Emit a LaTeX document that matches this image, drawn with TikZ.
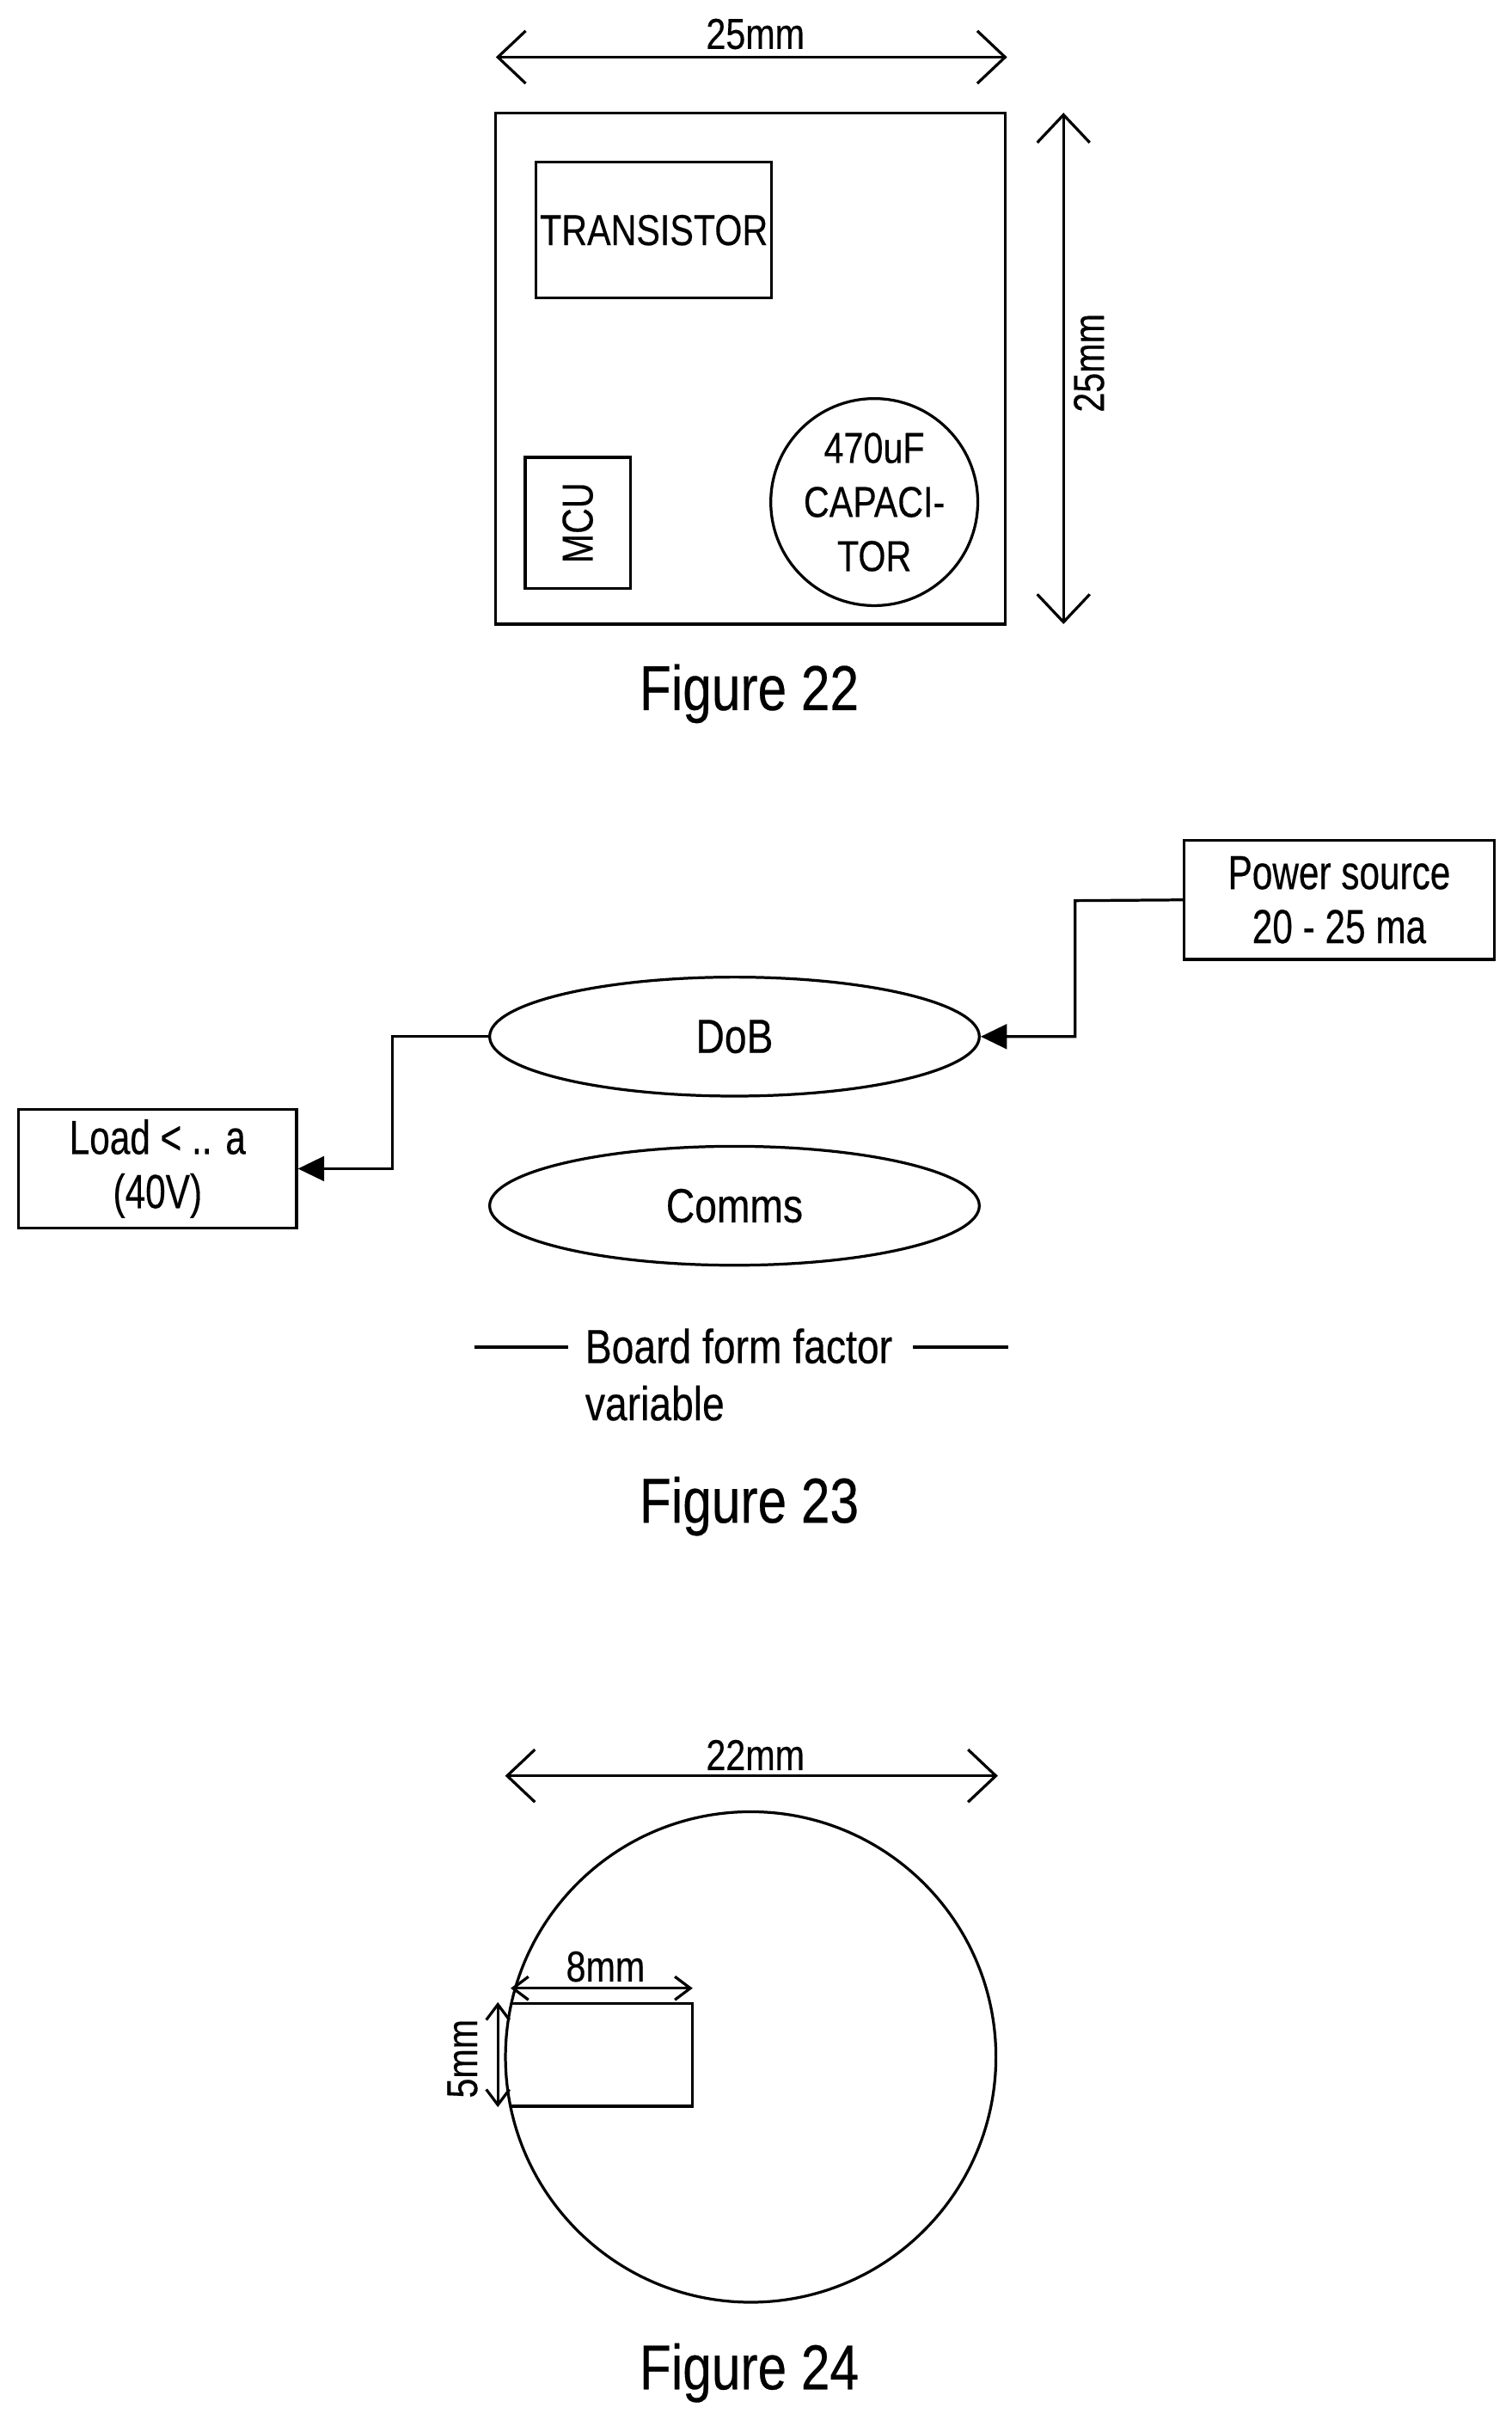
\documentclass[tikz,border=0pt]{standalone}
\usepackage{fontspec}
\usepackage{graphicx}
\setmainfont[FakeBold=0.4]{Liberation Sans}
\usetikzlibrary{arrows.meta,shapes.geometric}
\newcommand{\nar}[1]{\scalebox{.82}[1]{#1}}
\newcommand{\mida}[1]{\scalebox{.83}[1]{#1}}
\newcommand{\midb}[1]{\scalebox{.76}[1]{#1}}
\newcommand{\wid}[1]{\scalebox{.82}[1]{#1}}
\tikzset{
  every path/.style={line width=1.8pt},
  lbl/.style={inner sep=0pt,font=\fontsize{28}{35}\selectfont,align=center},
  lblb/.style={inner sep=0pt,font=\fontsize{31}{35}\selectfont,align=center},
  figcap/.style={inner sep=0pt,font=\fontsize{41}{48}\selectfont},
  box/.style={draw,lbl,rectangle},
  oval/.style={draw,lblb,ellipse,inner sep=0pt,minimum width=317pt,minimum height=77pt},
  dimline/.style={{Straight Barb[length=18pt,width=34pt,line width=1.8pt]}-{Straight Barb[length=18pt,width=34pt,line width=1.8pt]}},
  dimsmall/.style={{Straight Barb[length=10pt,width=15pt,line width=1.8pt]}-{Straight Barb[length=10pt,width=15pt,line width=1.8pt]}},
  solidhead/.style={-{Triangle[length=17pt,width=16pt]}}
}
\begin{document}
\begin{tikzpicture}[x=1pt,y=-1pt]
\useasboundingbox (0,0) rectangle (978.3,1566.5);
% Figure 22
\node[draw,rectangle,inner sep=0pt,minimum width=330pt,minimum height=331pt] (board) at (486,238.5) {};
\node[box,minimum width=152.5pt,minimum height=88pt] (transistor) at (423.3,149) {\nar{TRANSISTOR}};
\node[box,rotate=90,minimum width=85pt,minimum height=68pt] (mcu) at (374,338.5) {\nar{MCU}};
\node[box,circle,minimum size=134pt] (capacitor) at (566,325) {\nar{470uF}\\\nar{CAPACI-}\\\nar{TOR}};
\coordinate (t1) at (321,37); \coordinate (t2) at (652,37);
\draw[dimline] (t1) -- (t2);
\node[lbl] (tlabel) at (489,22) {\nar{25mm}};
\coordinate (r1) at (688.5,73); \coordinate (r2) at (688.5,404);
\draw[dimline] (r1) -- (r2);
\node[lbl,rotate=90] (rlabel) at (705,235) {\nar{25mm}};
\node[figcap] (fig22) at (485,449) {\wid{Figure 22}};
% Figure 23
\node[draw,lblb,rectangle,minimum width=200.5pt,minimum height=77pt] (power) at (867,582.5) {\midb{Power source}\\\midb{20 - 25 ma}};
\node[oval] (dob) at (475.5,671) {\mida{DoB}};
\node[oval] (comms) at (475.5,780.5) {\mida{Comms}};
\node[draw,lblb,rectangle,minimum width=180pt,minimum height=77pt] (load) at (102,756.5) {\midb{Load < .. a}\\\midb{(40V)}};
\coordinate (j1) at (696,583);
\coordinate (j2) at (254,671);
\draw[solidhead] (power.west) -- (j1) |- (dob.east);
\draw[solidhead] (dob.west) -- (j2) |- (load.east);
\node[lblb,anchor=north west,align=left,font=\fontsize{31}{37}\selectfont] (boardform) at (378,859) {\mida{Board form factor}\\\mida{variable}};
\coordinate (l1) at (307,872); \coordinate (l2) at (368,872);
\coordinate (l3) at (591,872); \coordinate (l4) at (653,872);
\draw (l1) -- (l2);
\draw (l3) -- (l4);
\node[figcap] (fig23) at (485,975) {\wid{Figure 23}};
% Figure 24
\node[draw,circle,inner sep=0pt,minimum size=317.5pt] (disc) at (486,1331.5) {};
\coordinate (s1) at (331,1296.7); \coordinate (s2) at (448.4,1296.7);
\coordinate (s3) at (448.4,1363.4); \coordinate (s4) at (331,1363.4);
\draw (s1) -- (s2) -- (s3) -- (s4);
\coordinate (a1) at (327,1149.5); \coordinate (a2) at (646,1149.5);
\draw[dimline] (a1) -- (a2);
\node[lbl] (alabel) at (489,1136) {\nar{22mm}};
\coordinate (b1) at (330.6,1287); \coordinate (b2) at (448.4,1287);
\draw[dimsmall] (b1) -- (b2);
\node[lbl] (blabel) at (392,1273) {\nar{8mm}};
\coordinate (c1) at (322.3,1296); \coordinate (c2) at (322.3,1364);
\draw[dimsmall] (c1) -- (c2);
\node[lbl,rotate=90] (clabel) at (299.4,1332.6) {\nar{5mm}};
\node[figcap] (fig24) at (485,1536) {\wid{Figure 24}};
\end{tikzpicture}
\end{document}
